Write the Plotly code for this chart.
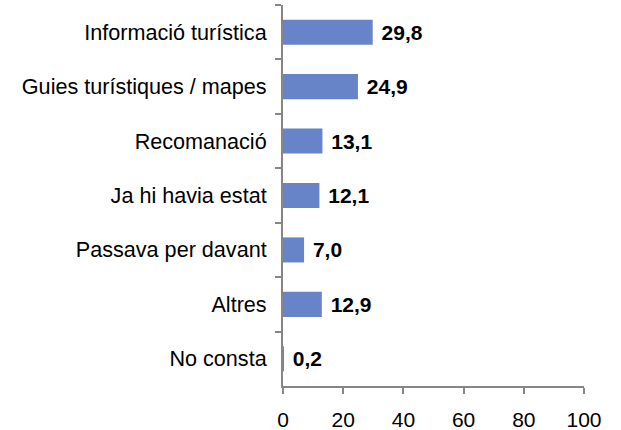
import plotly.graph_objects as go

categories = ['Informació turística', 'Guies turístiques / mapes', 'Recomanació',
              'Ja hi havia estat', 'Passava per davant', 'Altres', 'No consta']
values = [29.8, 24.9, 13.1, 12.1, 7.0, 12.9, 0.2]
x_ticks = [0, 20, 40, 60, 80, 100]

BAR_COLOR = '#6784C8'
AXIS_COLOR = '#868686'
FONT = 'Liberation Sans, Arial, sans-serif'

fig = go.Figure(go.Bar(
    x=values,
    y=categories,
    orientation='h',
    marker=dict(color=BAR_COLOR, line=dict(width=0)),
    texttemplate=' %{x:.1f}',
    textposition='outside',
    textfont=dict(family=FONT, size=21, color='black', weight='bold'),
    cliponaxis=False,
    width=0.46,
))

fig.update_layout(
    width=621, height=430,
    margin=dict(l=283, r=37, t=5, b=44),
    plot_bgcolor='white', paper_bgcolor='white',
    separators=',.',
    showlegend=False,
    font=dict(family=FONT, size=21, color='black'),
    xaxis=dict(
        range=[0, 100], tickvals=x_ticks, showgrid=False, zeroline=False,
        showline=True, linecolor=AXIS_COLOR, linewidth=2,
        ticks='outside', ticklen=6, tickcolor=AXIS_COLOR, tickwidth=2,
        tickfont=dict(size=21), ticklabelstandoff=8, automargin=False,
    ),
    yaxis=dict(
        autorange='reversed', showgrid=False, zeroline=False,
        showline=True, linecolor=AXIS_COLOR, linewidth=2,
        ticks='outside', ticklen=6, tickcolor=AXIS_COLOR, tickwidth=2,
        tickson='boundaries', tickfont=dict(size=21.6), ticklabelstandoff=10,
        automargin=False,
    ),
)

# the page body has a default margin; drop it so the figure sits at the corner
fig.write_html('out.html', config={'displayModeBar': False},
               post_script="document.body.style.margin='0';")
